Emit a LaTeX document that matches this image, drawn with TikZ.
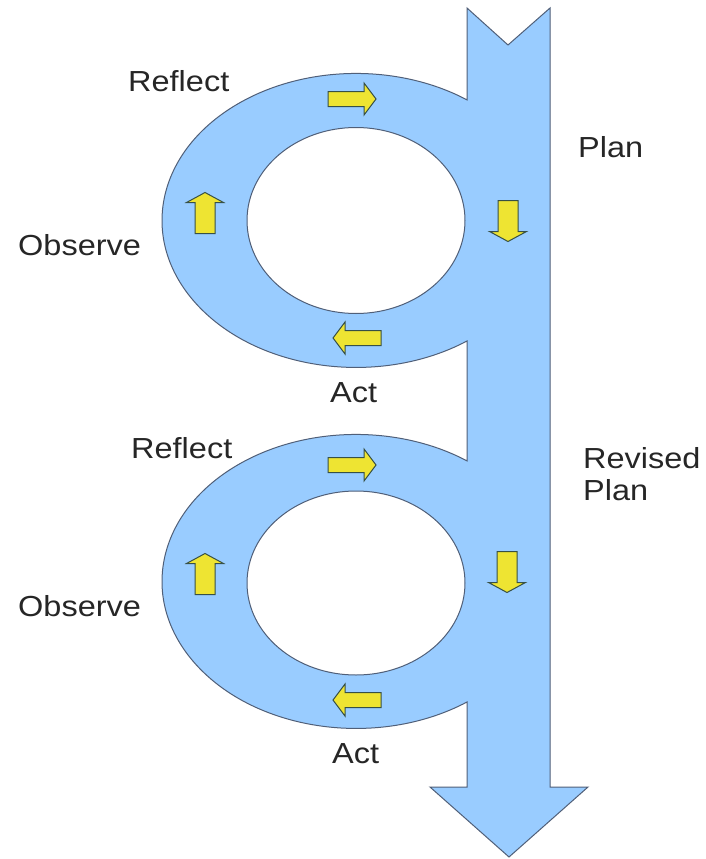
\documentclass[tikz,border=0pt]{standalone}
\usepackage{fontspec}
\setmainfont{Liberation Sans}[FakeStretch=1.12]
\definecolor{flowblue}{RGB}{153,204,255}
\definecolor{flowedge}{RGB}{80,95,120}
\definecolor{arrowyellow}{RGB}{238,228,50}
\definecolor{arrowedge}{RGB}{55,80,70}
\begin{document}
\begin{tikzpicture}[x=1pt,y=-1pt,
  lbl/.style={inner sep=0pt, font=\fontsize{29}{32}\selectfont, anchor=base west, text=black!85},
  yarrowstyle/.style={fill=arrowyellow, draw=arrowedge, line width=1pt, line join=miter},
  harrow/.pic={\draw[yarrowstyle] (-24,-7.5)--(12,-7.5)--(12,-16)--(24,0)--(12,16)--(12,7.5)--(-24,7.5)--cycle;},
  varrow/.pic={\draw[yarrowstyle] (-10,20.5)--(-10,-10.5)--(-18.5,-10.5)--(0,-20.5)--(18.5,-10.5)--(10,-10.5)--(10,20.5)--cycle;}
]
\fill[white] (0,0) rectangle (705,859);
\useasboundingbox (0,0) rectangle (705,859);

% main shaft with the two loops
\draw[fill=flowblue, draw=flowedge, line width=1pt, even odd rule, line join=miter]
  (467,8) -- (508,45) -- (550,8) -- (550,787) -- (588,787) -- (509,857) -- (430,787) -- (467,787) -- (467,702)
  arc[start angle=-55.1, end angle=-304.9, x radius=194pt, y radius=147pt] -- (467,341)
  arc[start angle=-55.1, end angle=-304.9, x radius=194pt, y radius=147pt] -- cycle
  (356,220.5) ellipse[x radius=109pt, y radius=93pt]
  (356,583) ellipse[x radius=109pt, y radius=92pt];

% small yellow arrows, loop 1
\pic at (352,99) {harrow};
\pic at (205,213) {varrow};
\pic[yscale=-1] at (508,221) {varrow};
\pic[xscale=-1] at (357,338) {harrow};
% loop 2
\pic at (352,465) {harrow};
\pic at (205,574) {varrow};
\pic[yscale=-1] at (507,572) {varrow};
\pic[xscale=-1] at (357,700) {harrow};

% labels
\node[lbl] (reflect1) at (128,91) {Reflect};
\node[lbl] (plan1) at (578,157) {Plan};
\node[lbl] (observe1) at (18,255) {Observe};
\node[lbl] (act1) at (330,402) {Act};
\node[lbl] (reflect2) at (131,458) {Reflect};
\node[lbl] (revised) at (583,468) {Revised};
\node[lbl] (plan2) at (583,500) {Plan};
\node[lbl] (observe2) at (18,616) {Observe};
\node[lbl] (act2) at (332,763) {Act};
\end{tikzpicture}
\end{document}
